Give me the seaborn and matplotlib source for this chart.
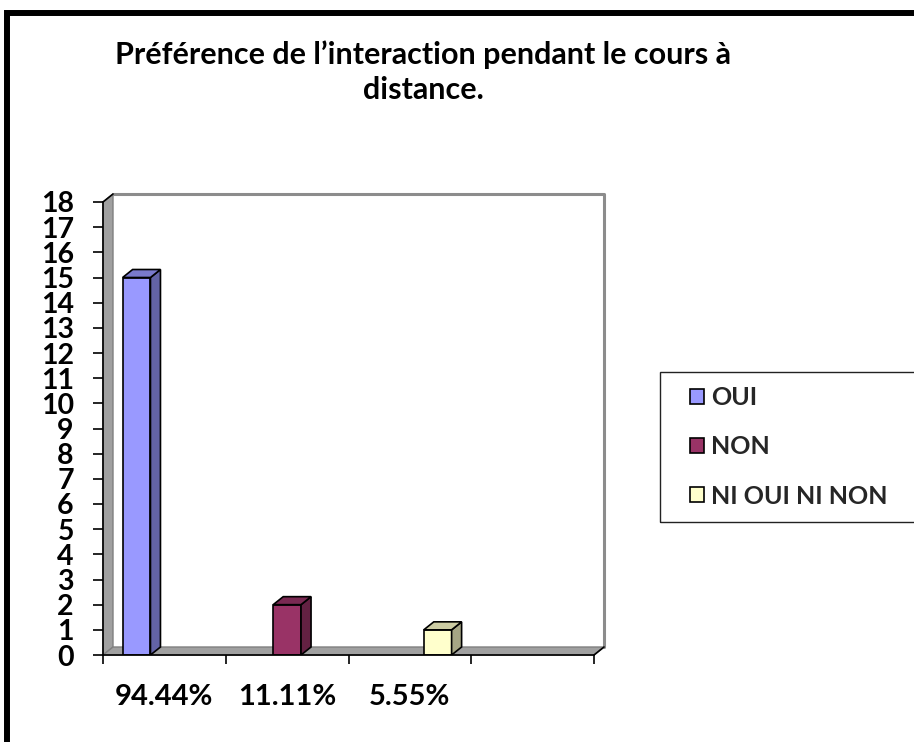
import numpy as np
import pandas as pd
import seaborn as sns
import matplotlib.pyplot as plt
from matplotlib.patches import Polygon, Rectangle, Patch

# Données du graphique
categories = ["94.44%", "11.11%", "5.55%", ""]
series = ["OUI", "NON", "NI OUI NI NON"]
serie_cat = ["94.44%", "11.11%", "5.55%"]
valeurs = [15, 2, 1]
couleurs = ["#9999FF", "#993366", "#FFFFCC"]
y_ticks = list(range(0, 19))

df = pd.DataFrame({"Categorie": serie_cat, "Serie": series, "Valeur": valeurs})

sns.set_theme(style="white")
plt.rcParams["font.family"] = ["Lato", "DejaVu Sans"]
plt.rcParams["font.weight"] = "bold"

W, H = 914, 742
fig = plt.figure(figsize=(W / 100, H / 100), dpi=100)
fig.patch.set_facecolor("white")

ax_l, ax_b, ax_w, ax_h = 103, 87, 491, 453
ax = fig.add_axes([ax_l / W, ax_b / H, ax_w / W, ax_h / H])
ax.set_facecolor("white")

palette = dict(zip(series, couleurs))
sns.barplot(data=df, x="Categorie", y="Valeur", hue="Serie",
            order=categories, hue_order=series, palette=palette,
            width=0.68, dodge=True, edgecolor="black", linewidth=1.2,
            saturation=1, legend=False, ax=ax)
barres = list(ax.patches)

ax.set_xlim(-0.5, 3.5)
ax.set_ylim(0, 18)

# profondeur 3D (en pixels -> données)
dx = 10 * 4 / ax_w
dy = 8 * 18 / ax_h

# mur gauche et sol gris
mur = Polygon([(-0.5, 0), (-0.5, 18), (-0.5 + dx, 18 + dy), (-0.5 + dx, dy)],
              closed=True, facecolor="#a0a0a0", edgecolor="#808080", lw=1,
              clip_on=False, zorder=0.5)
sol = Polygon([(-0.5, 0), (3.5, 0), (3.5 + dx, dy), (-0.5 + dx, dy)],
              closed=True, facecolor="#a0a0a0", edgecolor="#808080", lw=1,
              clip_on=False, zorder=0.5)
ax.add_patch(mur)
ax.add_patch(sol)
ax.plot([-0.5 + dx, 3.5 + dx, 3.5 + dx], [18 + dy, 18 + dy, dy],
        color="#8c8c8c", lw=2.2, clip_on=False, zorder=0.6)
ax.plot([-0.5, -0.5 + dx], [18, 18 + dy], color="black", lw=1.2, clip_on=False, zorder=3)
ax.plot([3.5, 3.5 + dx], [0, dy], color="black", lw=1.2, clip_on=False, zorder=3)

# faces latérales et supérieures des barres
for p in barres:
    h = p.get_height()
    if not np.isfinite(h) or h <= 0:
        continue
    x0 = p.get_x()
    x1 = x0 + p.get_width()
    fc = p.get_facecolor()[:3]
    cote = Polygon([(x1, 0), (x1, h), (x1 + dx, h + dy), (x1 + dx, dy)], closed=True,
                   facecolor=tuple(v * 0.65 for v in fc), edgecolor="black", lw=1.2, zorder=2)
    dessus = Polygon([(x0, h), (x1, h), (x1 + dx, h + dy), (x0 + dx, h + dy)], closed=True,
                     facecolor=tuple(v * 0.8 for v in fc), edgecolor="black", lw=1.2, zorder=2)
    ax.add_patch(cote)
    ax.add_patch(dessus)

# axes
for s in ["top", "right"]:
    ax.spines[s].set_visible(False)
for s in ["left", "bottom"]:
    ax.spines[s].set_color("black")
    ax.spines[s].set_linewidth(1.2)
    ax.spines[s].set_zorder(3)

ax.set_yticks(y_ticks)
ax.set_yticklabels([str(v) for v in y_ticks])
ax.tick_params(axis="y", direction="out", length=7, width=1.2, color="black",
               pad=14, labelsize=20.5, left=True)
ax.set_xticks(range(len(categories)))
ax.set_xticklabels(categories)
ax.set_xticks(np.arange(-0.5, 3.6, 1), minor=True)
ax.tick_params(axis="x", which="major", length=0, pad=21, labelsize=21)
ax.tick_params(axis="x", which="minor", direction="out", length=6.5, width=1.2,
               color="black", bottom=True)
for t in ax.get_xticklabels() + ax.get_yticklabels():
    t.set_fontweight("bold")
    t.set_color("black")
ax.set_xlabel("")
ax.set_ylabel("")
ax.grid(False)

# titre
fig.text(423 / W, 1 - 55 / H, "Préférence de l’interaction pendant le cours à",
         ha="center", va="center", fontsize=22, fontweight="bold", color="black")
fig.text(423 / W, 1 - 90 / H, "distance.",
         ha="center", va="center", fontsize=22, fontweight="bold", color="black")

# légende
fig.patches.append(Rectangle((660 / W, 1 - 522 / H), 0.4, 150 / H,
                             transform=fig.transFigure, fill=False,
                             edgecolor="#222222", lw=1))
handles = [Patch(facecolor=c, edgecolor="black", lw=1.2) for c in couleurs]
fig.legend(handles, series, loc="upper left", bbox_to_anchor=(690 / W, 1 - 386 / H),
           frameon=False, handlelength=0.55, handleheight=0.55,
           handletextpad=0.3, labelspacing=1.05, borderaxespad=0, borderpad=0,
           prop={"weight": "bold", "size": 18})

# cadre noir
fig.patches.append(Rectangle((7 / W, -0.1), 1.2, 1.1 - 12.5 / H,
                             transform=fig.transFigure, fill=False,
                             edgecolor="black", lw=4.3))

fig.savefig("out.png", dpi=100)
